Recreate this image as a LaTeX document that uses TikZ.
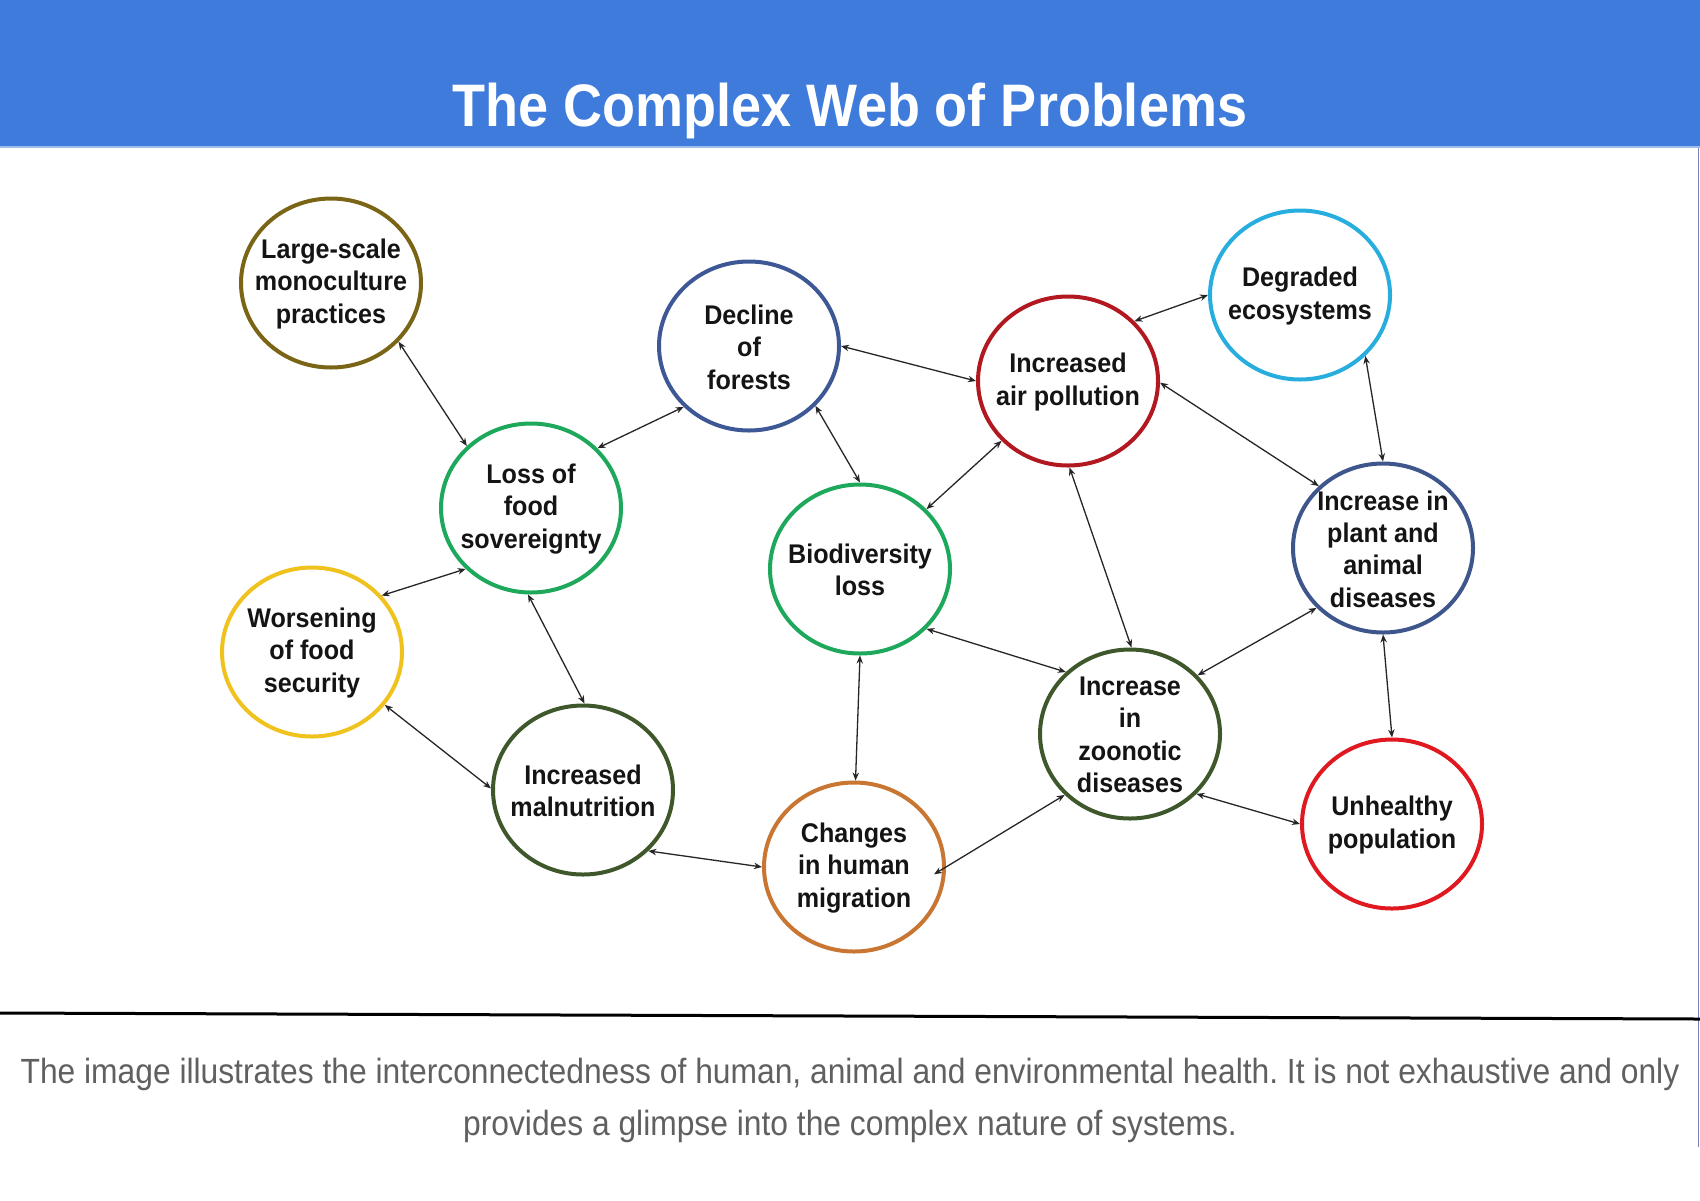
\documentclass[tikz,border=0pt]{standalone}
\usepackage{fontspec}
\setmainfont{Liberation Sans}
\newfontfamily\bubfont{Liberation Sans}[FakeStretch=0.93]
\newfontfamily\titfont{Liberation Sans}[FakeStretch=0.9]
\newfontfamily\capfont{Liberation Sans}[FakeStretch=0.908]
\usetikzlibrary{shapes.geometric,arrows.meta}
\definecolor{hdr}{RGB}{62,123,219}
\definecolor{hdrline}{RGB}{160,190,236}
\definecolor{cLS}{RGB}{122,100,22}
\definecolor{cDF}{RGB}{62,88,150}
\definecolor{cAP}{RGB}{178,24,32}
\definecolor{cDE}{RGB}{40,174,222}
\definecolor{cGR}{RGB}{30,168,92}
\definecolor{cPA}{RGB}{62,86,140}
\definecolor{cWF}{RGB}{240,194,30}
\definecolor{cDG}{RGB}{62,88,44}
\definecolor{cCM}{RGB}{200,118,50}
\definecolor{cUP}{RGB}{224,24,32}
\definecolor{captxt}{RGB}{96,96,96}
\definecolor{edgecol}{RGB}{120,130,180}
\frenchspacing
\begin{document}
\begin{tikzpicture}[x=0.5pt,y=-0.5pt,
  bub/.style={ellipse, draw=#1, line width=2pt, minimum width=90pt,
    minimum height=84.5pt, inner sep=0pt, fill=white},
  txt/.style={font=\bubfont\bfseries\fontsize{13.5}{16.2}\selectfont,
    align=center, text=black!92, yshift=-0.5pt},
  link/.style={<->, >={Stealth[length=4pt,width=3.2pt]}, line width=0.65pt, black!85},
  capstyle/.style={font=\capfont\fontsize{17.5}{26}\selectfont, text=captxt, anchor=base, inner sep=0pt}]
\fill[white] (0,0) rectangle (1700,1200);
\useasboundingbox (0,0) rectangle (1700,1200);
% header
\fill[hdr] (0,0) rectangle (1700,146);
\fill[hdrline] (0,146) rectangle (1700,148);
\node[font=\titfont\bfseries\fontsize{30}{36}\selectfont, text=white, anchor=base, inner sep=0pt] (title) at (850,126) {The Complex Web of Problems};
% frame lines
\draw[edgecol, line width=0.5pt] (1698,148) -- (1698,1147);
\draw[black, line width=1.5pt] (0,1013) -- (1700,1019);
% nodes
\node[bub=cLS, label={[txt]center:Large-scale\\monoculture\\practices}] (LS) at (331,283) {};
\node[bub=cDF, label={[txt]center:Decline\\of\\forests}] (DF) at (749,346) {};
\node[bub=cAP, label={[txt]center:Increased\\air pollution}] (AP) at (1068,381) {};
\node[bub=cDE, label={[txt]center:Degraded\\ecosystems}] (DE) at (1300,295) {};
\node[bub=cGR, label={[txt]center:Loss of\\food\\sovereignty}] (LF) at (531,508) {};
\node[bub=cGR, label={[txt]center:Biodiversity\\loss}] (BL) at (860,569) {};
\node[bub=cPA, label={[txt]center:Increase in\\plant and\\animal\\diseases}] (PA) at (1383,548) {};
\node[bub=cWF, label={[txt]center:Worsening\\of food\\security}] (WF) at (312,652) {};
\node[bub=cDG, label={[txt]center:Increased\\malnutrition}] (MN) at (583,790) {};
\node[bub=cDG, label={[txt]center:Increase\\in\\zoonotic\\diseases}] (ZD) at (1130,734) {};
\node[bub=cCM, label={[txt]center:Changes\\in human\\migration}] (CM) at (854,867) {};
\node[bub=cUP, label={[txt]center:Unhealthy\\population}] (UP) at (1392,824) {};
% connectors
\draw[link] (LS.-41.7) -- (LF.136.2);
\draw[link] (LF.42.8) -- (DF.223.1);
\draw[link] (DF.0) -- (AP.180);
\draw[link] (AP.42.8) -- (DE.180);
\draw[link] (DF.-42.6) -- (BL.90);
\draw[link] (AP.222.8) -- (BL.42.8);
\draw[link] (AP.-1) -- (PA.136.2);
\draw[link] (DE.-43.5) -- (PA.90.7);
\draw[link] (AP.-89.3) -- (ZD.89.3);
\draw[link] (WF.39.5) -- (LF.223.3);
\draw[link] (LF.268.6) -- (MN.89.6);
\draw[link] (WF.-36.5) -- (MN.179);
\draw[link] (BL.-42.8) -- (ZD.136.7);
\draw[link] (PA.222.8) -- (ZD.41.9);
\draw[link] (BL.270) -- (CM.89.3);
\draw[link] (MN.-43) -- (CM.180);
\draw[link, shorten >=-7pt] (ZD.223.3) -- (CM.0);
\draw[link] (ZD.-42.8) -- (UP.180);
\draw[link] (PA.270) -- (UP.90);
% caption
\node[capstyle] (cap1) at (850,1083) {The image illustrates the interconnectedness of human, animal and environmental health. It is not exhaustive and only};
\node[capstyle] (cap2) at (850,1135) {provides a glimpse into the complex nature of systems.};
\end{tikzpicture}
\end{document}
